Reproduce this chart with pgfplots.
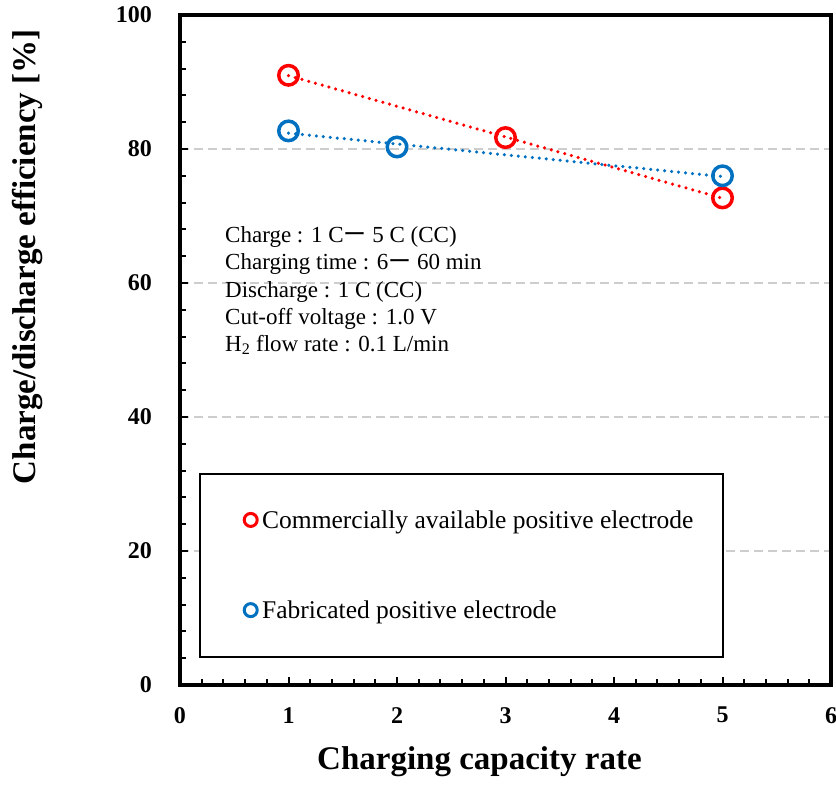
\documentclass[border=0pt]{standalone}
\usepackage{fontspec}
\setmainfont{Liberation Serif}
\newfontfamily\cjk{Noto Sans CJK JP}
\usepackage{pgfplots}
\usepackage{pgfplotstable}
\pgfplotsset{compat=1.18}

\definecolor{cred}{RGB}{255,0,0}
\definecolor{cblue}{RGB}{0,112,192}
\definecolor{cgrid}{RGB}{205,205,205}

% charge/discharge efficiency [%] vs charging capacity rate
\pgfplotstableread{
x y
1 91.0
3 81.7
5 72.7
}\commercial
\pgfplotstableread{
x y
1 82.7
2 80.3
5 76.0
}\fabricated

\begin{document}
\begin{tikzpicture}
\begin{axis}[
    name=ax,
    scale only axis,
    width=651pt, height=670pt,
    xmin=0, xmax=6, ymin=0, ymax=100,
    xtick={0,...,6}, ytick={0,20,...,100},
    minor x tick num=4, minor y tick num=4,
    tick pos=left, tick align=inside,
    major tick length=8pt, minor tick length=6pt,
    every tick/.style={black, line width=2pt},
    axis line style={line width=3.5pt},
    ymajorgrids,
    major grid style={cgrid, line width=1.5pt, dash pattern=on 9pt off 5pt},
    /pgf/number format/assume math mode=true,
    ticklabel style={font=\fontsize{24}{28}\selectfont\bfseries, inner sep=0pt},
    yticklabel style={xshift=-28pt},
    xticklabel style={yshift=-22pt},
    xlabel={Charging capacity rate},
    ylabel={Charge/discharge efficiency [\%]},
    label style={font=\fontsize{33}{40}\selectfont\bfseries},
    xlabel style={at={(axis description cs:0.46,-0.1254)}, anchor=base},
    ylabel style={at={(axis description cs:-0.2227,0.639)}, anchor=base},
    legend style={at={(axis cs:0.590,26.1)}, anchor=north west, draw=none, fill=none,
        inner sep=0pt, column sep=5pt, row sep=71pt,
        font=\fontsize{25.5}{30}\selectfont, nodes={inner sep=0pt}},
    legend cell align=left,
    legend image code/.code={\draw[#1, mark size=6.5pt, mark options={line width=3pt}] plot coordinates {(0pt,0pt)};},
]
% legend frame (covers the grid lines)
\draw[line width=2.5pt, fill=white] (axis cs:0.184,4.18) rectangle (axis cs:5.005,31.49);

\addplot[cred, line width=3.5pt, line cap=round, dash pattern=on 0pt off 7pt, forget plot]
    table[x=x, y={create col/linear regression={y=y}}] {\commercial};
\addplot[cblue, line width=3.5pt, line cap=round, dash pattern=on 0pt off 7pt, forget plot]
    table[x=x, y={create col/linear regression={y=y}}] {\fabricated};

\addplot[cred, only marks, mark=o, mark size=9.75pt, line width=3.5pt] table[x=x, y=y] {\commercial};
\addlegendentry{Commercially available positive electrode}
\addplot[cblue, only marks, mark=o, mark size=9.75pt, line width=3.5pt] table[x=x, y=y] {\fabricated};
\addlegendentry{Fabricated positive electrode}

% test conditions
\node[anchor=base west, font=\fontsize{23}{27}\selectfont, inner sep=0pt] at (axis cs:0.415,65.97) {Charge : 1 C{\cjk ー} 5 C (CC)};
\node[anchor=base west, font=\fontsize{23}{27}\selectfont, inner sep=0pt] at (axis cs:0.415,61.94) {Charging time : 6{\cjk ー} 60 min};
\node[anchor=base west, font=\fontsize{23}{27}\selectfont, inner sep=0pt] at (axis cs:0.415,57.91) {Discharge : 1 C (CC)};
\node[anchor=base west, font=\fontsize{23}{27}\selectfont, inner sep=0pt] at (axis cs:0.415,53.88) {Cut-off voltage : 1.0 V};
\node[anchor=base west, font=\fontsize{23}{27}\selectfont, inner sep=0pt] at (axis cs:0.415,49.85) {H\textsubscript{2} flow rate : 0.1 L/min};
\end{axis}
\pgfresetboundingbox
\path[use as bounding box] ([xshift=-180pt,yshift=-99pt]ax.south west) rectangle ([xshift=5pt,yshift=15pt]ax.north east);
\end{tikzpicture}
\end{document}
